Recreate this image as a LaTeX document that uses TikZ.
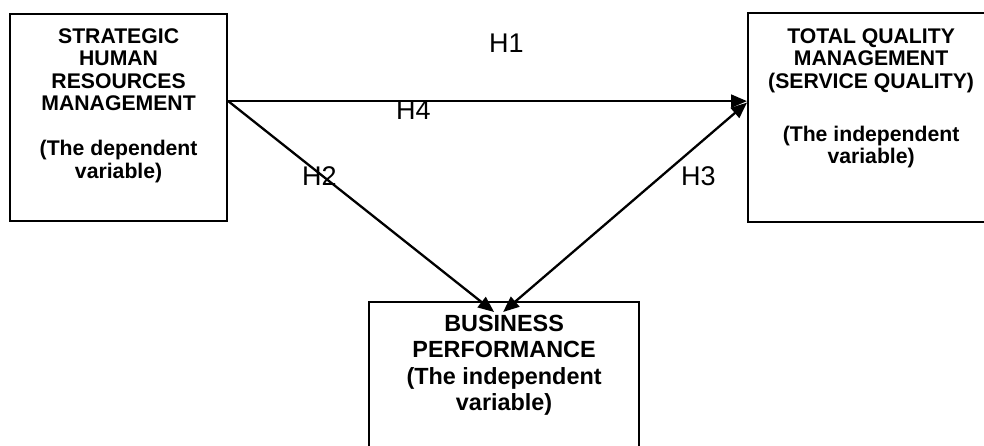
\documentclass[tikz,border=0pt]{standalone}
\usepackage{fontspec}
\setmainfont{Liberation Sans}
\usetikzlibrary{arrows.meta}
\tikzset{
  varbox/.style={draw, line width=2.2pt, rectangle, anchor=north west, inner sep=0pt},
  vartext/.style={anchor=north, inner sep=0pt, align=center, font=\bfseries\fontsize{21.2}{22.5}\selectfont},
  hyp/.style={anchor=base west, inner sep=0pt, font=\fontsize{27}{30}\selectfont},
  tip/.style={Triangle[length=16pt,width=13pt]},
  link/.style={line width=2.3pt, -{Triangle[length=16pt,width=13pt]}}
}

\begin{document}
\begin{tikzpicture}[x=1pt,y=-1pt]
  \useasboundingbox (0,0) rectangle (984,445);
  % the three variables
  \node[varbox, minimum width=217pt, minimum height=207.5pt] (shrm) at (9,12.5) {};
  \node[varbox, minimum width=246pt, minimum height=209pt] (tqm) at (747,12) {};
  \node[varbox, minimum width=270pt, minimum height=200pt] (bp) at (368,301) {};
  \node[vartext] (shrmtext) at ([yshift=-15.5pt]shrm.north) {STRATEGIC\\HUMAN\\RESOURCES\\MANAGEMENT\\[22.5pt](The dependent\\variable)};
  \node[vartext] (tqmtext) at ([yshift=-16pt]tqm.north) {TOTAL QUALITY\\MANAGEMENT\\(SERVICE QUALITY)\\[30.5pt](The independent\\variable)};
  \node[vartext, font=\bfseries\fontsize{23.4}{26.3}\selectfont] (bptext) at ([yshift=-14pt]bp.north) {BUSINESS\\PERFORMANCE\\(The independent\\variable)};
  % hypotheses
  \draw[link] ([yshift=16.25pt]shrm.east) -- ([yshift=16.5pt]tqm.west);
  \draw[link] ([yshift=16.25pt]shrm.east) -- ([xshift=-10pt,yshift=-11pt]bp.north);
  \draw[link, {Triangle[length=16pt,width=13pt]}-{Triangle[length=16pt,width=13pt]}] ([yshift=15pt]tqm.west) -- ([xshift=-1pt,yshift=-11pt]bp.north);
  \node[hyp] (h1) at (489,52) {H1};
  \node[hyp] (h2) at (302,185) {H2};
  \node[hyp] (h3) at (681,185) {H3};
  \node[hyp] (h4) at (396,119) {H4};
\end{tikzpicture}
\end{document}
